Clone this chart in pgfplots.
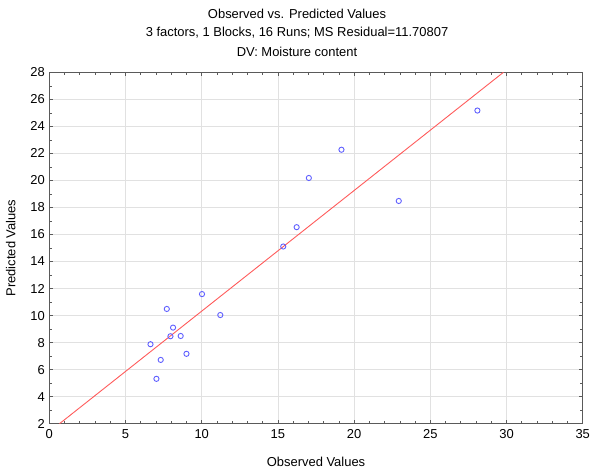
\documentclass[border=0pt]{standalone}
\usepackage{pgfplots}
\pgfplotsset{compat=1.18}
\usepackage{fontspec}
\setmainfont{Liberation Sans}
\definecolor{ptblue}{RGB}{95,95,255}
\definecolor{fitred}{RGB}{255,90,90}
\definecolor{gridgray}{RGB}{225,225,225}
\definecolor{axgray}{RGB}{90,90,90}
\begin{document}
\begin{tikzpicture}[x=1bp,y=1bp]
\useasboundingbox (-49.3,-48.3) rectangle (540.7,423.7);
\begin{axis}[
  at={(0,0)}, anchor=south west,
  name=ax,
  scale only axis,
  width=533.4bp, height=351.4bp,
  xmin=0, xmax=35, ymin=2, ymax=28,
  xtick={0,5,...,35}, ytick={2,4,...,28},
  minor x tick num=4, minor y tick num=1,
  tick align=inside,
  major tick length=4bp, minor tick length=2.5bp,
  grid=major,
  major grid style={gridgray, line width=0.8pt},
  axis line style={axgray, line width=1pt},
  tick style={axgray, line width=0.6pt},
  ticklabel style={font=\fontsize{13}{15}\selectfont},
  xticklabel style={yshift=-2bp},
  yticklabel style={xshift=-1bp},
  /pgf/number format/assume math mode=true,
  xlabel={Observed Values}, ylabel={Predicted Values},
  label style={font=\fontsize{13}{15}\selectfont},
  xlabel style={yshift=-12bp},
  ylabel style={yshift=8bp},
  clip=true,
]
\addplot[fitred, line width=0.9pt] coordinates {(0.67,2) (29.8,28)};
\addplot[only marks, mark=o, mark size=2.6bp, mark options={ptblue, line width=0.9pt}] coordinates {
(7.71,10.49) (10.02,11.59) (11.22,10.04) (8.12,9.11) (7.95,8.47) (8.62,8.49)
(6.64,7.88) (9.00,7.17) (7.31,6.72) (7.03,5.32)
(19.17,22.27) (17.03,20.18) (22.93,18.48) (16.23,16.54) (15.35,15.11) (28.09,25.17)
};
\end{axis}
\node[font=\fontsize{13}{15}\selectfont] at (247.7,409.7) {Observed vs. Predicted Values};
\node[font=\fontsize{13}{15}\selectfont] at (247.7,390.7) {3 factors, 1 Blocks, 16 Runs; MS Residual=11.70807};
\node[font=\fontsize{13}{15}\selectfont] at (247.7,371.7) {DV: Moisture content};
\end{tikzpicture}
\end{document}
